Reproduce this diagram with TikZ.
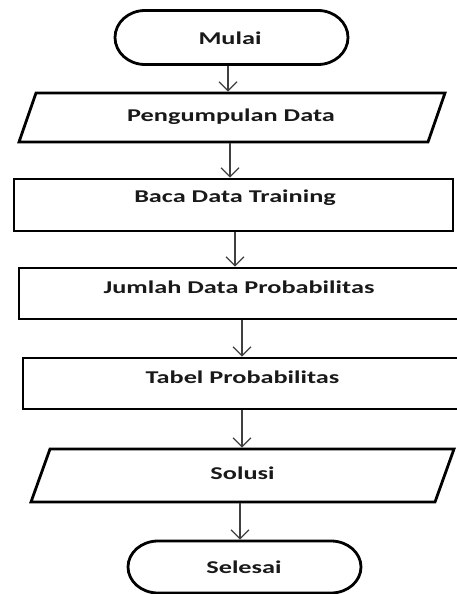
\documentclass[tikz,border=0pt]{standalone}
\usepackage{fontspec}
\setmainfont{Carlito}
\usetikzlibrary{arrows.meta}
\newcommand{\wtxt}[1]{\scalebox{1.46}[1]{#1}}
\tikzset{
  shp/.style={line width=2.8pt, draw=black},
  rbox/.style={shp, inner sep=0pt},
  lbl/.style={inner sep=0pt, font=\fontsize{18}{20}\selectfont\bfseries, text=black!90},
  arr/.style={draw=black!75, line width=1.2pt, -{Straight Barb[length=9pt,width=18pt,line width=1.2pt]}}
}
\begin{document}
\begin{tikzpicture}[x=1pt,y=1pt]
\useasboundingbox (0,0) rectangle (456,-594);
% terminator start
\node[inner sep=0pt, minimum width=233pt, minimum height=54pt, outer sep=0pt] (m) at (231.5,-37.5) {};
\draw[shp] ([xshift=30pt]m.north west) -- ([xshift=-30pt]m.north east)
  arc[start angle=90, end angle=-90, x radius=30pt, y radius=27pt]
  -- ([xshift=30pt]m.south west)
  arc[start angle=270, end angle=90, x radius=30pt, y radius=27pt] -- cycle;
\node[lbl] (mt) at (230,-38) {\wtxt{Mulai}};
% parallelogram 1
\node[inner sep=0pt, minimum width=426pt, minimum height=49pt, outer sep=0pt] (p1) at (232,-117.5) {};
\draw[shp] ([xshift=17pt]p1.north west) -- (p1.north east)
  -- ([xshift=-17pt]p1.south east) -- (p1.south west) -- cycle;
\node[lbl] (p1t) at (231,-117) {\wtxt{Pengumpulan Data}};
% rectangles
\node[rbox, minimum width=439pt, minimum height=52pt] (b1) at (233.5,-205) {};
\node[lbl] (b1t) at (235,-198) {\wtxt{Baca Data Training}};
\node[rbox, minimum width=443pt, minimum height=51pt] (j) at (240.5,-293.5) {};
\node[lbl] (jt) at (239,-287) {\wtxt{Jumlah Data Probabilitas}};
\node[rbox, minimum width=439pt, minimum height=51pt] (t) at (242.5,-383.5) {};
\node[lbl] (tt) at (242.5,-377) {\wtxt{Tabel Probabilitas}};
% parallelogram 2
\node[inner sep=0pt, minimum width=423pt, minimum height=53pt, outer sep=0pt] (s) at (242.5,-475.5) {};
\draw[shp] ([xshift=19pt]s.north west) -- (s.north east)
  -- ([xshift=-19pt]s.south east) -- (s.south west) -- cycle;
\node[lbl] (st) at (242.5,-473) {\wtxt{Solusi}};
% terminator end
\node[inner sep=0pt, minimum width=233pt, minimum height=52pt, outer sep=0pt] (e) at (244.5,-567) {};
\draw[shp] ([xshift=30pt]e.north west) -- ([xshift=-30pt]e.north east)
  arc[start angle=90, end angle=-90, x radius=30pt, y radius=26pt]
  -- ([xshift=30pt]e.south west)
  arc[start angle=270, end angle=90, x radius=30pt, y radius=26pt] -- cycle;
\node[lbl] (et) at (244,-567) {\wtxt{Selesai}};
% arrows
\draw[arr] ([xshift=-3.5pt,yshift=-1.4pt]m.south) -- ([xshift=-4pt,yshift=1.4pt]p1.north);
\draw[arr] ([xshift=-2pt,yshift=-1.4pt]p1.south) -- ([xshift=-3.5pt]b1.north);
\draw[arr] ([xshift=1.5pt]b1.south) -- ([xshift=-5.5pt]j.north);
\draw[arr] ([xshift=1.5pt]j.south) -- ([xshift=-0.5pt]t.north);
\draw[arr] ([xshift=-0.5pt]t.south) -- ([xshift=-0.5pt,yshift=1.4pt]s.north);
\draw[arr] ([xshift=-2.5pt,yshift=-1.4pt]s.south) -- ([xshift=-4.5pt,yshift=1.4pt]e.north);
\end{tikzpicture}
\end{document}
